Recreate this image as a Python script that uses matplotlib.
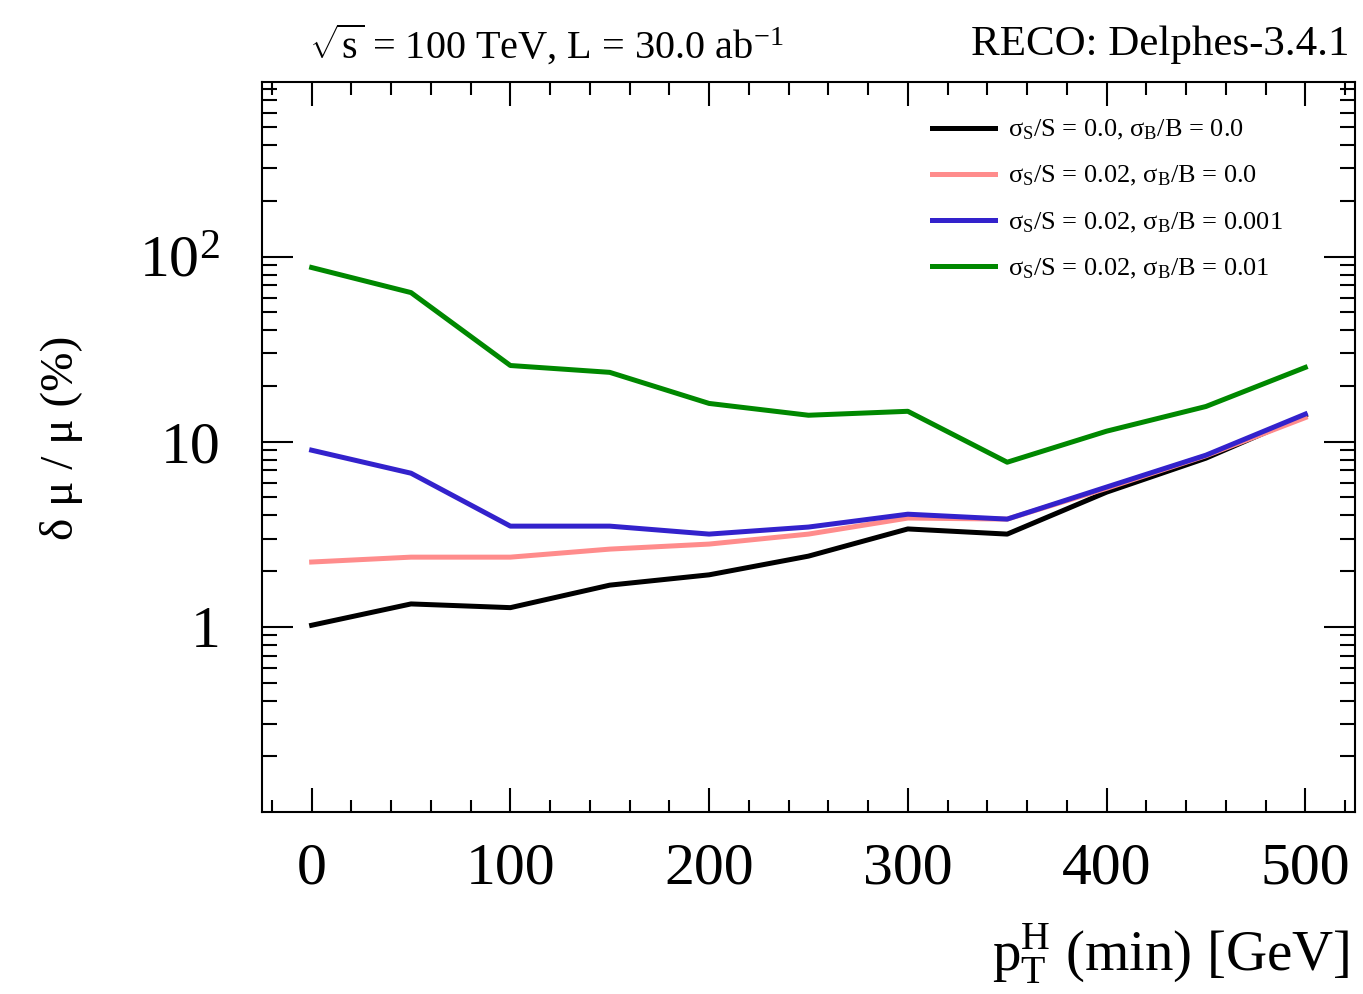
import numpy as np
import matplotlib
matplotlib.use("Agg")
import matplotlib.pyplot as plt
from matplotlib.ticker import FixedLocator, MultipleLocator, LogLocator, NullFormatter

plt.rcParams['font.family'] = ['Liberation Serif', 'DejaVu Serif']
plt.rcParams['mathtext.fontset'] = 'custom'
plt.rcParams['mathtext.rm'] = 'Liberation Serif'
plt.rcParams['mathtext.it'] = 'Liberation Serif:italic'

# data
pt_min = [0, 50, 100, 150, 200, 250, 300, 350, 400, 450, 500]
mu_00_00 = [1.02, 1.33, 1.27, 1.68, 1.91, 2.41, 3.38, 3.17, 5.34, 8.15, 13.9]
mu_02_00 = [2.24, 2.38, 2.38, 2.63, 2.80, 3.17, 3.87, 3.82, 5.6, 8.4, 13.5]
mu_02_001 = [9.0, 6.76, 3.5, 3.5, 3.17, 3.46, 4.06, 3.82, 5.69, 8.46, 14.1]
mu_02_01 = [87.3, 63.9, 25.8, 23.7, 16.1, 13.9, 14.6, 7.75, 11.4, 15.5, 25.2]

labels = [r'σ$_{\mathrm{S}}$/S = 0.0, σ$_{\mathrm{B}}$/B = 0.0',
          r'σ$_{\mathrm{S}}$/S = 0.02, σ$_{\mathrm{B}}$/B = 0.0',
          r'σ$_{\mathrm{S}}$/S = 0.02, σ$_{\mathrm{B}}$/B = 0.001',
          r'σ$_{\mathrm{S}}$/S = 0.02, σ$_{\mathrm{B}}$/B = 0.01']
colors = ['black', '#ff8c8c', '#3322cc', '#008800']

fig = plt.figure(figsize=(13.63, 9.94), dpi=100)
ax = fig.add_axes([0.1922, 0.1831, 0.8019, 0.7344])

for y, lab, c in zip([mu_00_00, mu_02_00, mu_02_001, mu_02_01], labels, colors):
    ax.plot(pt_min, y, color=c, lw=3.6, label=lab)

ax.set_yscale('log')
ax.set_xlim(-25, 525)
ax.set_ylim(0.1, 877)

ax.xaxis.set_major_locator(MultipleLocator(100))
ax.xaxis.set_minor_locator(MultipleLocator(20))
ax.yaxis.set_major_locator(FixedLocator([1, 10, 100]))
ax.set_yticklabels(['1', '10', r'$10^{2}$'])
ax.yaxis.set_minor_locator(LogLocator(base=10, subs=np.arange(2, 10)))
ax.yaxis.set_minor_formatter(NullFormatter())

ax.tick_params(axis='both', which='both', direction='in', top=True, right=True,
               width=1.5, labelsize=43)
ax.tick_params(axis='x', which='major', length=17, pad=22)
ax.tick_params(axis='x', which='minor', length=9)
ax.tick_params(axis='y', which='major', length=22, pad=30)
ax.tick_params(axis='y', which='minor', length=11)
for s in ax.spines.values():
    s.set_linewidth(1.5)

ax.legend(loc='upper left', bbox_to_anchor=(0.591, 0.983), frameon=False,
          fontsize=19, handlelength=2.4, labelspacing=0.83, handletextpad=0.5)

fig.text(0.227, 0.955, r'$\sqrt{\mathrm{s}}$ = 100 TeV, L = 30.0 ab$^{-1}$',
         fontsize=29, ha='left', va='center')
fig.text(0.99, 0.955, 'RECO: Delphes-3.4.1', fontsize=31, ha='right', va='center')
fig.text(0.99, 0.04, r'p$_{\mathrm{T}}^{\mathrm{H}}$ (min) [GeV]', fontsize=41,
         ha='right', va='center')
fig.text(0.045, 0.56, 'δ μ / μ (%)', fontsize=34, rotation=90,
         ha='center', va='center')

fig.savefig('out.png', dpi=100)
